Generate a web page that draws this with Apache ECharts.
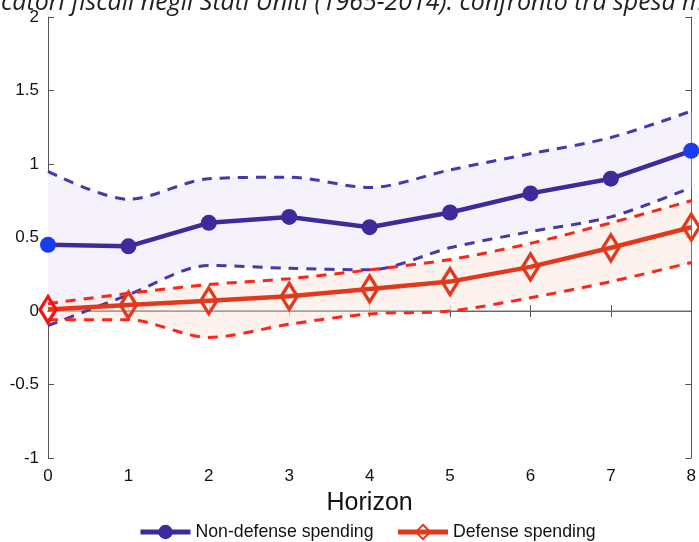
<!DOCTYPE html>
<html><head><meta charset="utf-8">
<script src="https://cdn.jsdelivr.net/npm/echarts@6/dist/echarts.min.js"></script>
<style>html,body{margin:0;padding:0;background:#fff}#c{width:699px;height:542px}</style>
</head><body><div id="c"></div>
<script>
const titleText = "Moltiplicatori fiscali negli Stati Uniti (1965-2014): confronto tra spesa militare e non militare";
const horizons = ['0','1','2','3','4','5','6','7','8'];
const yTicks = [-1,-0.5,0,0.5,1,1.5,2];
const nonDefense = [0.45,0.44,0.60,0.64,0.57,0.67,0.80,0.90,1.09];
const nonDefenseUpper = [0.95,0.76,0.90,0.91,0.84,0.96,1.07,1.18,1.36];
const nonDefenseLower = [-0.10,0.11,0.31,0.29,0.28,0.43,0.54,0.64,0.84];
const defense = [0.01,0.04,0.07,0.10,0.15,0.20,0.30,0.43,0.57];
const defenseUpper = [0.05,0.12,0.18,0.22,0.28,0.35,0.46,0.60,0.75];
const defenseLower = [-0.06,-0.06,-0.18,-0.09,-0.02,0.00,0.09,0.20,0.33];

const PURPLE = '#3f2a9c', PURPLE_D = '#4a36ad', BLUE = '#1a3cf0';
const RED = '#e2391d', RED_D = '#ff2418';
const diff = (u,l) => u.map((v,i)=>+(v - l[i]).toFixed(4));
const FONT = 'Liberation Sans';

const chart = echarts.init(document.getElementById('c'));
const lineCol = '#555';
const xCommon = {
  type:'category', data:horizons, boundaryGap:false,
  axisLine:{show:true,lineStyle:{color:lineCol,width:1}},
  axisTick:{show:true,inside:true,length:6,alignWithLabel:true,lineStyle:{color:lineCol}},
  splitLine:{show:false}
};
const yCommon = {
  type:'value', min:-1, max:2, interval:0.5,
  axisLine:{show:true,lineStyle:{color:lineCol,width:1}},
  axisTick:{show:true,inside:true,length:6,lineStyle:{color:lineCol}},
  splitLine:{show:false}
};
chart.setOption({
  animation:false,
  title:{text:titleText,left:-87,top:-15,textStyle:{fontFamily:'Open Sans',fontStyle:'italic',fontWeight:'normal',fontSize:25,color:'#222'}},
  grid:{left:48,right:2,top:17,bottom:84,containLabel:false},
  legend:{
    bottom:-4,left:133,itemWidth:50,itemHeight:18,itemGap:22,
    textStyle:{fontFamily:FONT,fontSize:17.7,color:'#111'},
    data:[{name:'Non-defense spending',lineStyle:{width:5}},{name:'Defense spending',lineStyle:{width:5}}]
  },
  xAxis:[
    Object.assign({},xCommon,{position:'bottom',
      name:'Horizon',nameLocation:'middle',nameGap:33,
      nameTextStyle:{fontFamily:FONT,fontSize:25,color:'#111'},
      axisLabel:{fontFamily:FONT,fontSize:17,color:'#111',margin:10}}),
    Object.assign({},xCommon,{position:'top',axisLabel:{show:false}})
  ],
  yAxis:[
    Object.assign({},yCommon,{position:'left',
      axisLabel:{fontFamily:FONT,fontSize:17,color:'#111',margin:9,formatter:v=>String(v)}}),
    Object.assign({},yCommon,{position:'right',axisLabel:{show:false}})
  ],
  series:[
    {type:'line',name:'ndLowBase',data:nonDefenseLower,stack:'nd',stackStrategy:'all',symbol:'none',smooth:0.3,lineStyle:{opacity:0},silent:true,z:1},
    {type:'line',name:'ndBand',data:diff(nonDefenseUpper,nonDefenseLower),stack:'nd',stackStrategy:'all',symbol:'none',smooth:0.3,lineStyle:{opacity:0},areaStyle:{color:'rgb(245,242,252)',opacity:1},silent:true,z:1},
    {type:'line',name:'dLowBase',data:defenseLower,stack:'d',stackStrategy:'all',symbol:'none',smooth:0.3,lineStyle:{opacity:0},silent:true,z:1},
    {type:'line',name:'dBand',data:diff(defenseUpper,defenseLower),stack:'d',stackStrategy:'all',symbol:'none',smooth:0.3,lineStyle:{opacity:0},areaStyle:{color:'rgba(253,238,232,0.75)',opacity:1},silent:true,z:1},
    {type:'line',name:'zero',data:horizons.map(()=>0),symbol:'none',lineStyle:{color:'#777',width:1},silent:true,z:2},
    {type:'line',name:'ndU',data:nonDefenseUpper,symbol:'none',smooth:0.3,lineStyle:{color:PURPLE_D,width:3,type:[10,8]},z:3},
    {type:'line',name:'ndL',data:nonDefenseLower,symbol:'none',smooth:0.3,lineStyle:{color:PURPLE_D,width:3,type:[10,8]},z:3},
    {type:'line',name:'dU',data:defenseUpper,symbol:'none',smooth:0.3,lineStyle:{color:RED_D,width:3,type:[10,8]},z:3},
    {type:'line',name:'dL',data:defenseLower,symbol:'none',smooth:0.3,lineStyle:{color:RED_D,width:3,type:[10,8]},z:3},
    {type:'line',name:'Non-defense spending',
      data:nonDefense.map((v,i)=>({value:v,itemStyle:(i===0||i===horizons.length-1)?{color:BLUE,borderColor:BLUE}:undefined})),
      symbol:'circle',symbolSize:16,color:PURPLE,lineStyle:{color:PURPLE,width:4.5},itemStyle:{color:PURPLE,borderColor:PURPLE,borderWidth:0},z:5},
    {type:'line',name:'Defense spending',
      data:defense.map((v,i)=>({value:v,itemStyle:i===0?{borderColor:'#ff1010'}:undefined})),
      symbol:'diamond',symbolSize:[16,26],color:RED,lineStyle:{color:RED,width:4.5},
      itemStyle:{color:'rgba(255,255,255,0)',borderColor:RED,borderWidth:3.5},z:6}
  ]
});
</script></body></html>
